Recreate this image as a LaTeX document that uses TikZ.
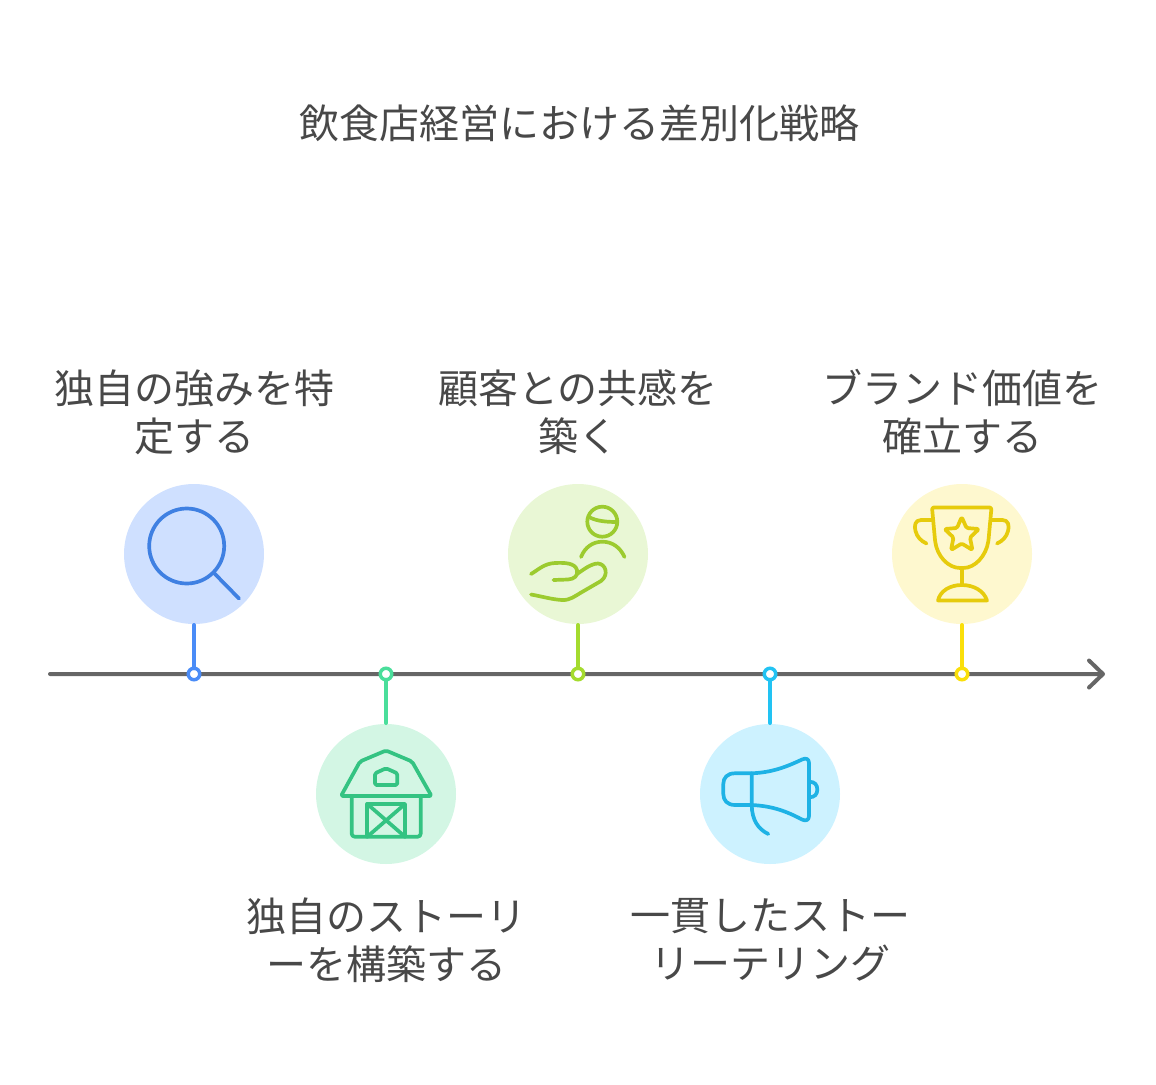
\documentclass[tikz,border=0pt]{standalone}
\usepackage{fontspec}
\setmainfont{Noto Sans CJK JP}
\usepackage{tikz}
\definecolor{inktext}{HTML}{484848}
\definecolor{axisgray}{HTML}{666666}
\definecolor{bluetone}{HTML}{4A8CF7}
\definecolor{bluefill}{HTML}{CFE0FF}
\definecolor{blueicon}{HTML}{3F80E2}
\definecolor{greentone}{HTML}{4ADE9B}
\definecolor{greenfill}{HTML}{D3F6E4}
\definecolor{greenicon}{HTML}{34C382}
\definecolor{limetone}{HTML}{A4DB2E}
\definecolor{limefill}{HTML}{E9F7D5}
\definecolor{limeicon}{HTML}{9CCB2F}
\definecolor{cyantone}{HTML}{22C3F3}
\definecolor{cyanfill}{HTML}{CDF2FF}
\definecolor{cyanicon}{HTML}{1EB2E5}
\definecolor{yellowtone}{HTML}{FADF0A}
\definecolor{yellowfill}{HTML}{FEF8CF}
\definecolor{yellowicon}{HTML}{E6CB0C}
\tikzset{
  disc/.style={circle,draw=none,minimum size=140pt,inner sep=0pt,outer sep=1pt},
  dotmark/.style={circle,fill=white,line width=3.5pt,minimum size=11.5pt,inner sep=0pt,outer sep=0pt},
  blurb/.style={text=inktext,align=center,inner sep=0pt,font=\fontsize{40}{48}\selectfont},
  stem/.style={line width=4pt,line cap=round},
  icon/.style={line width=3.7pt,line cap=round,line join=round}
}
\begin{document}
\begin{tikzpicture}[x=1pt,y=-1pt]
  \useasboundingbox (0,0) rectangle (1156,1084);
  \coordinate (axisstart) at (50,674);
  \coordinate (axisend) at (1103,674);
  \coordinate (tipup) at (1089,660.5);
  \coordinate (tipdown) at (1089,687.5);
  \draw[axisgray,line width=4pt,line cap=round,line join=round] (axisstart) -- (axisend) (tipup) -- (axisend) -- (tipdown);
  \node[blurb] (title) at (579,123) {飲食店経営における差別化戦略};
  \foreach \pos/\dotpos/\name/\tone in {{(194,554)/(194,674)/find/blue}, {(386,794)/(386,674)/barn/green}, {(578,554)/(578,674)/care/lime}, {(770,794)/(770,674)/horn/cyan}, {(962,554)/(962,674)/cup/yellow}}{
    \node[disc,fill=\tone fill] (\name) at \pos {};
    \node[dotmark,draw=\tone tone] (\name dot) at \dotpos {};
    \draw[stem,\tone tone] (\name) -- (\name dot);
  }
  \node[blurb] (findtext) at (194,412) {独自の強みを特\\定する};
  \node[blurb] (barntext) at (386,940) {独自のストーリ\\ーを構築する};
  \node[blurb] (caretext) at (578,412) {顧客との共感を\\築く};
  \node[blurb] (horntext) at (770,940) {一貫したストー\\リーテリング};
  \node[blurb] (cuptext) at (962,412) {ブランド価値を\\確立する};
  % magnifier
  \begin{scope}[icon,blueicon]
    \draw (186.7,546) circle (37.5);
    \draw (214,573) -- (239,598.5);
  \end{scope}
  % barn
  \begin{scope}[icon,greenicon]
    \draw[rounded corners=2pt] (341,796) -- (360,761.5) -- (386,750.5) -- (412,761.5) -- (431.5,796) -- cycle;
    \draw[rounded corners=3pt] (351.7,797) -- (351.7,836.7) -- (420.7,836.7) -- (420.7,797);
    \draw (367.3,836.7) -- (367.3,804) -- (405,804) -- (405,836.7);
    \draw (367.3,804) -- (405,836.7) (405,804) -- (367.3,836.7);
    \draw[rounded corners=1.5pt] (375,785) -- (375,773.3) -- (386,768.3) -- (397.3,773.3) -- (397.3,785) -- cycle;
  \end{scope}
  % hand and person
  \begin{scope}[icon,limeicon]
    \draw (602.3,521.7) circle (15);
    \draw (589,517) .. controls (596,521) and (606,522) .. (617,522);
    \draw (581,557) .. controls (585,547) and (593,541.7) .. (602.3,541.7) .. controls (612,541.7) and (620,547) .. (624.5,557);
    \draw (531,574) .. controls (538,570) and (544,563.5) .. (555,563) .. controls (565,562.5) and (575,563) .. (577,570) .. controls (578.5,576) and (574,579) .. (568,579.5) -- (553.5,580);
    \draw (531,594.5) .. controls (540,596) and (552,599.5) .. (562,600) .. controls (570,600.5) and (575,596) .. (582,592) -- (601,581) .. controls (609,575) and (606,564) .. (598,563.5) .. controls (591,563.5) and (583,570) .. (577,574);
  \end{scope}
  % megaphone
  \begin{scope}[icon,cyanicon]
    \draw (751.7,773.3) -- (735,773.3) .. controls (727,773.3) and (723.3,778) .. (723.3,784) -- (723.3,794) .. controls (723.3,800) and (727,805) .. (735,805) -- (751.7,805)
      .. controls (772,806) and (786,811) .. (802,819.5) .. controls (806,821.5) and (809,820) .. (809,816) -- (809,763) .. controls (809,759) and (806,757.5) .. (802,759.5) .. controls (786,767) and (772,772.5) .. (751.7,773.3);
    \draw (751.7,773.3) -- (751.7,805) .. controls (752,820) and (758,829) .. (768.3,834);
    \draw (809,781.7) .. controls (815,781.7) and (817.3,785) .. (817.3,789.5) .. controls (817.3,794) and (815,797.3) .. (809,797.3);
  \end{scope}
  % trophy
  \begin{scope}[icon,yellowicon]
    \draw[rounded corners=1.5pt] (932,507.5) -- (991.5,507.5) -- (988.5,540) .. controls (986,556) and (975,568) .. (961.7,568) .. controls (948,568) and (937,556) .. (935,540) -- cycle;
    \draw (932.5,520) -- (921,520) .. controls (915,520) and (914,526) .. (915.5,531) .. controls (917,537) and (921,541) .. (926.5,543.5);
    \draw (991,520) -- (1002.5,520) .. controls (1008.5,520) and (1009.5,526) .. (1008,531) .. controls (1006.5,537) and (1002.5,541) .. (997,543.5);
    \draw (961.7,568) -- (961.7,585);
    \draw (938,600.5) .. controls (940,591) and (950,585) .. (961.7,585) .. controls (974,585) and (984,591) .. (987,600.5) -- cycle;
    \draw[rounded corners=1.5pt] (961.7,517) -- (966.5,528) -- (979,529) -- (970,537.5) -- (972.5,550) -- (961.7,543.5) -- (951,550) -- (953.5,537.5) -- (944.5,529) -- (957,528) -- cycle;
  \end{scope}
\end{tikzpicture}
\end{document}
